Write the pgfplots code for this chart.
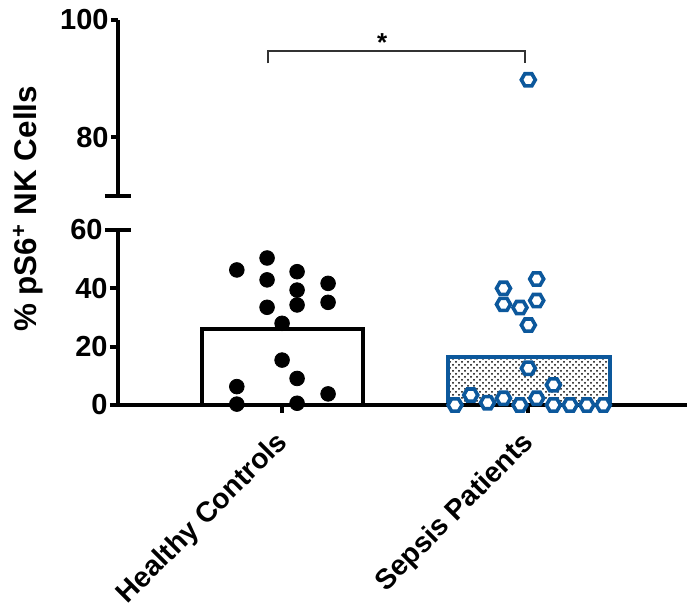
\documentclass[border=0pt]{standalone}
\usepackage{pgfplots}
\pgfplotsset{compat=1.18}
\usepackage{fontspec}
\setmainfont{Liberation Sans}
\usetikzlibrary{patterns}
\definecolor{sblue}{RGB}{12,88,156}
\pgfdeclareplotmark{hexo}{%
  \pgfpathmoveto{\pgfpointpolar{0}{\pgfplotmarksize}}%
  \pgfpathlineto{\pgfpointpolar{60}{\pgfplotmarksize}}%
  \pgfpathlineto{\pgfpointpolar{120}{\pgfplotmarksize}}%
  \pgfpathlineto{\pgfpointpolar{180}{\pgfplotmarksize}}%
  \pgfpathlineto{\pgfpointpolar{240}{\pgfplotmarksize}}%
  \pgfpathlineto{\pgfpointpolar{300}{\pgfplotmarksize}}%
  \pgfpathclose
  \pgfusepathqfillstroke
}
\pgfplotsset{
  brk/.style={
    scale only axis, width=284.5pt, xmin=-0.667, xmax=1.646, clip=false,
    axis line style={line width=2.2pt, black},
    every tick/.style={black, line width=2pt},
    major tick length=3.5pt, tick align=outside,
    /pgf/number format/assume math mode=true,
    y tick label style={font=\bfseries\fontsize{14.5}{17}\selectfont, inner sep=1pt},
    extra y tick style={tick align=center, major tick length=13pt},
  }
}
\begin{document}
\begin{tikzpicture}
\path[use as bounding box] (-59pt,-101.5pt) rectangle (284.5pt,202.5pt);
% lower segment
\begin{axis}[brk, at={(0,0)}, height=87.5pt,
  ymin=0, ymax=60, ytick={0,20,40}, extra y ticks={60},
  axis x line*=bottom, axis y line*=left, axis on top,
  xtick={0,1}, xticklabels={Healthy Controls, Sepsis Patients},
  major tick length=4pt,
  x tick label style={xshift=-4pt, yshift=-6.5pt, rotate=45, anchor=north east, font=\bfseries\fontsize{14.2}{17}\selectfont, inner sep=1pt},
]
\addplot[ybar, bar width=0.655, bar shift=0pt, draw=black, fill=white, line width=2pt] coordinates {(0,26.0)};
\addplot[ybar, bar width=0.658, bar shift=0pt, draw=sblue, pattern=crosshatch dots, pattern color=black, line width=2pt] coordinates {(1.003,16.5)};
\addplot[only marks, mark=*, mark size=3.67pt, black] coordinates {
(-0.184,46.3) (-0.061,50.4) (-0.061,42.9) (0.061,45.7) (0.061,39.4) (0.061,34.3)
(0.187,41.7) (0.187,35.2) (-0.061,33.5) (0,28.0) (0,15.4) (0.061,9.1)
(-0.184,6.3) (-0.184,0.3) (0.061,0.6) (0.187,3.8)};
\addplot[only marks, mark=hexo, mark size=3.5pt, mark options={draw=sblue, fill=white, line width=1.8pt}] coordinates {
(0.900,40.0) (1.035,43.2) (0.900,34.5) (0.967,33.4) (1.035,35.8) (1.001,27.4)
(1.001,12.6) (1.103,6.9) (0.767,3.4) (0.703,0) (0.835,0.8) (0.900,2.3)
(0.967,0) (1.035,2.3) (1.103,0) (1.171,0) (1.239,0) (1.306,0)};
\end{axis}
% upper segment
\begin{axis}[brk, at={(0,104.5pt)}, height=88pt,
  ymin=70, ymax=100, ytick={80,100}, extra y ticks={70}, extra y tick labels={},
  axis x line=none, axis y line*=left, xtick=\empty,
]
\addplot[only marks, mark=hexo, mark size=3.5pt, mark options={draw=sblue, fill=white, line width=1.8pt}] coordinates {(1.001,89.8)};
\draw[line width=0.9pt, black!80] (axis cs:-0.057,92.6) |- (axis cs:0.988,94.7) -- (axis cs:0.988,92.6);
\node[inner sep=0pt, font=\bfseries\fontsize{13}{15}\selectfont] at (axis cs:0.407,96.1) {*};
\end{axis}
\node[rotate=90, font=\bfseries\fontsize{15.7}{18}\selectfont] at (-45pt,98pt) {\% pS6\textsuperscript{+} NK Cells};
\end{tikzpicture}
\end{document}
